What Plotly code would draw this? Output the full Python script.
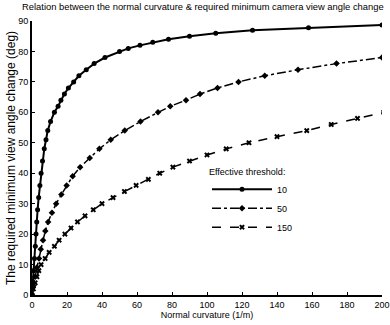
import plotly.graph_objects as go

# Threshold 10 (solid, circles)
curv_10 = [0, 0.4, 0.9, 1.4, 1.9, 2.3, 2.7, 3.2, 3.8, 4.5, 5.2, 6.0, 7.0, 8.0, 9.0, 10.6, 12.8,
           14.9, 16.5, 18.5, 20.8, 23.8, 26.8, 31, 35.5, 41.7, 50, 55, 61.7, 69, 78, 90, 105, 126, 158, 200]
angle_10 = [0, 4, 8, 12, 16, 20, 24, 28, 32, 36, 40, 44, 48, 51, 54, 57, 60,
            62, 64, 66, 68, 70, 72, 74, 76, 78, 80, 81, 82, 83, 84, 85, 86, 87, 87.8, 88.7]

# Threshold 50 (dash-dot, diamonds)
curv_50 = [0, 0.8, 1.7, 2.8, 4.0, 5.0, 6.3, 7.6, 9.2, 11.4, 13.8, 16.8, 19.8, 23.2, 27.5, 33, 38.5,
           45, 53, 62, 72, 79, 88, 96, 106, 118, 133, 152, 174, 200]
angle_50 = [0, 3, 6, 9, 12, 15, 18, 21, 24, 27, 30, 33, 36, 39, 42, 45, 48,
            51, 54, 57, 60, 62, 64, 66, 68, 70, 72, 74, 76, 78]

# Threshold 150 (dashed, crosses)
curv_150 = [0, 0.8, 1.8, 2.8, 3.9, 5.2, 7.5, 9.8, 12.8, 15.5, 18.8, 22.3, 26, 30.3, 35, 40,
            46.3, 52.8, 59.5, 66.5, 73, 80.5, 90, 100, 111, 124, 140, 157, 171, 186, 201]
angle_150 = [0, 2, 4, 6, 8, 10, 12, 14, 16, 18, 20, 22, 24, 26, 28, 30,
             32, 34, 36, 38, 40, 42, 44, 46, 48, 50, 52, 54, 56, 58, 60]

x_ticks = [0, 20, 40, 60, 80, 100, 120, 140, 160, 180, 200]
y_ticks = [0, 10, 20, 30, 40, 50, 60, 70, 80, 90]

FONT = "Liberation Sans, Arial, sans-serif"

fig = go.Figure()
fig.add_trace(go.Scatter(x=curv_10, y=angle_10, name="10", mode="lines+markers",
                         line=dict(color="black", width=2),
                         marker=dict(symbol="circle", size=5, color="black")))
fig.add_trace(go.Scatter(x=curv_50, y=angle_50, name="50", mode="lines+markers",
                         line=dict(color="black", width=1.5, dash="dashdot"),
                         marker=dict(symbol="diamond", size=5, color="black")))
fig.add_trace(go.Scatter(x=curv_150, y=angle_150, name="150", mode="lines+markers",
                         line=dict(color="black", width=1.5, dash="dash"),
                         marker=dict(symbol="x", size=5, color="black")))

fig.update_layout(
    width=390, height=325,
    margin=dict(l=32, r=8, t=21, b=30, autoexpand=False),
    paper_bgcolor="white", plot_bgcolor="white",
    font=dict(family=FONT, size=9, color="black"),
    title=dict(text="Relation between the normal curvature & required minimum camera view angle change",
               x=22/390, xanchor="left", xref="container",
               y=1-7/325, yanchor="middle", yref="container",
               font=dict(size=9.4, family=FONT, color="black")),
    showlegend=True,
    legend=dict(x=0.5, xanchor="left", y=(295-163)/274, yanchor="top",
                bgcolor="rgba(0,0,0,0)", borderwidth=0,
                title=dict(text="Effective threshold:", font=dict(size=9)),
                font=dict(size=9), itemwidth=60, tracegroupgap=2),
    xaxis=dict(range=[0, 200], tickvals=x_ticks, ticks="inside", ticklen=3,
               tickcolor="black", showline=True, linecolor="black", linewidth=2,
               showgrid=False, zeroline=False, tickfont=dict(size=9), automargin=False,
               title=dict(text="Normal curvature (1/m)", font=dict(size=9), standoff=0)),
    yaxis=dict(range=[0, 90], tickvals=y_ticks, ticks="inside", ticklen=3,
               tickcolor="black", showline=True, linecolor="black", linewidth=2,
               showgrid=False, zeroline=False, tickfont=dict(size=9), automargin=False,
               title=dict(text="The required minimum view angle change (deg)",
                          font=dict(size=12), standoff=0)),
)

fig.write_html("out.html", config={"displayModeBar": False},
               post_script="document.body.style.margin='0';")
